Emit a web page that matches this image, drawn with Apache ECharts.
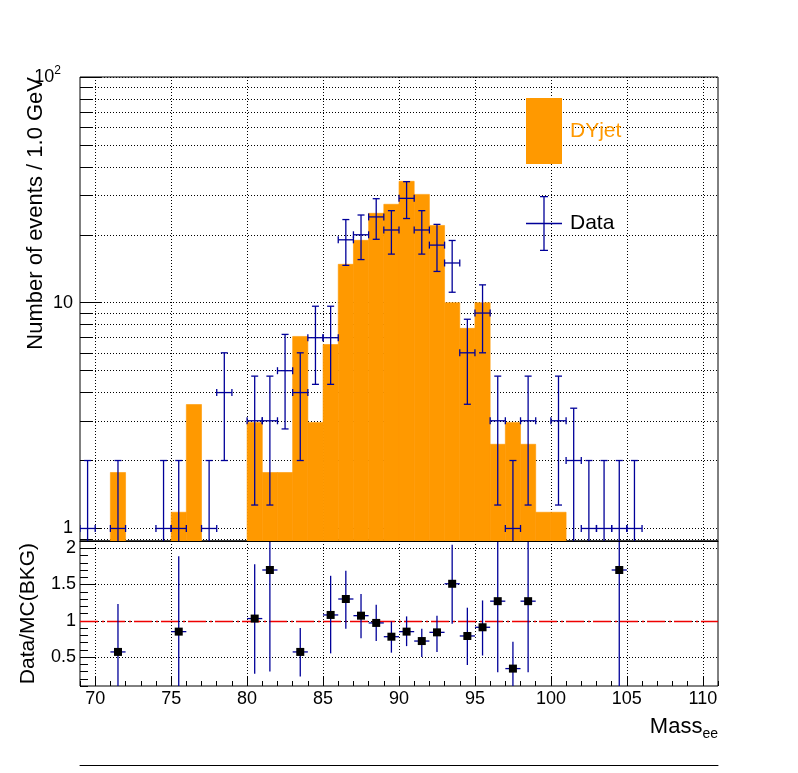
<!DOCTYPE html>
<html>
<head>
<meta charset="utf-8">
<script src="https://cdn.jsdelivr.net/npm/echarts@6/dist/echarts.min.js"></script>
<style>
html, body { margin: 0; padding: 0; background: #fff; }
#chart { width: 798px; height: 773px; }
</style>
</head>
<body>
<div id="chart"></div>
<script>
// DY+jets MC, bin centres of 1 GeV bins and yields
var mcX   = [71.5, 75.5, 76.5, 80.5, 81.5, 82.5, 83.5, 84.5, 85.5, 86.5, 87.5, 88.5, 89.5,
             90.5, 91.5, 92.5, 93.5, 94.5, 95.5, 96.5, 97.5, 98.5, 99.5, 100.5, 104.5];
var mcVal = [1.77, 1.18, 3.54, 2.95, 1.77, 1.77, 7.09, 2.95, 6.53, 14.8, 18.9, 24.9, 27.3,
             34.5, 30.2, 22.0, 10.0, 7.7, 10.0, 2.36, 2.95, 2.36, 1.18, 1.18, 0.59];

// data counts and their stat errors
var dataX   = [69.5, 71.5, 74.5, 75.5, 77.5, 78.5, 80.5, 81.5, 82.5, 83.5, 84.5, 85.5, 86.5, 87.5, 88.5, 89.5,
               90.5, 91.5, 92.5, 93.5, 94.5, 95.5, 96.5, 97.5, 98.5, 100.5, 101.5, 102.5, 103.5, 104.5, 105.5];
var dataVal = [1, 1, 1, 1, 1, 4, 3, 3, 5, 4, 7, 7, 19, 20, 24, 21,
               29, 21, 18, 15, 6, 9, 3, 1, 3, 3, 2, 1, 1, 1, 1];
var dataErr = [1, 1, 1, 1, 1, 2, 1.73, 1.73, 2.24, 2, 2.65, 2.65, 4.36, 4.47, 4.9, 4.58,
               5.39, 4.58, 4.24, 3.87, 2.45, 3, 1.73, 1, 1.73, 1.73, 1.41, 1, 1, 1, 1];

// Data/MC ratio with error band ends
var ratioX   = [71.5, 75.5, 80.5, 81.5, 83.5, 85.5, 86.5, 87.5, 88.5, 89.5,
                90.5, 91.5, 92.5, 93.5, 94.5, 95.5, 96.5, 97.5, 98.5, 104.5];
var ratioVal = [0.57, 0.85, 1.03, 1.70, 0.57, 1.08, 1.30, 1.07, 0.97, 0.78,
                0.85, 0.72, 0.84, 1.51, 0.79, 0.91, 1.27, 0.34, 1.27, 1.70];
var ratioLo  = [0.0, 0.0, 0.27, 0.30, 0.23, 0.55, 0.89, 0.76, 0.72, 0.56,
                0.65, 0.50, 0.57, 0.96, 0.39, 0.52, 0.29, 0.0, 0.29, 0.0];
var ratioHi  = [1.23, 1.89, 1.78, 3.1, 0.90, 1.62, 1.69, 1.37, 1.22, 0.99,
                1.06, 0.89, 1.07, 2.05, 1.18, 1.28, 2.25, 0.71, 2.25, 3.4];

// tick positions
var xMajor    = [70, 75, 80, 85, 90, 95, 100, 105, 110];
var yTopMinor = [0.9, 1, 2, 3, 4, 5, 6, 7, 8, 9, 10, 20, 30, 40, 50, 60, 70, 80, 90, 100];
var yTopMajor = [1, 10, 100];
var yBotMajor = [0.5, 1, 1.5, 2];

var xMin = 69, xMax = 111, binW = 1;
var yTopMin = 0.88, yTopMax = 100;
var yBotMin = 0.1, yBotMax = 2.1;

var orange = '#ff9900';
var blue = '#000099';
var font = '"Liberation Sans", Arial, sans-serif';
var dotted = { color: '#000', width: 1, type: [1, 2] };

function seg(x1, y1, x2, y2, color) {
	return { type: 'line', shape: { x1: x1, y1: y1, x2: x2, y2: y2 }, style: { stroke: color, lineWidth: 1.3 } };
}

// histogram bar, from the bottom of the pad up to the bin content
function histItem(params, api) {
	var x = api.value(0), v = api.value(1);
	if (v <= yTopMin) return;
	var p0 = api.coord([x - binW / 2, v]);
	var p1 = api.coord([x + binW / 2, yTopMin]);
	return {
		type: 'rect',
		shape: { x: p0[0], y: p0[1], width: p1[0] - p0[0], height: p1[1] - p0[1] },
		style: { fill: orange, stroke: orange, lineWidth: 0.6 }
	};
}

// data point: x and y error bars with end caps
function dataItem(params, api) {
	var x = api.value(0), v = api.value(1), e = api.value(2);
	var cap = 3.5;
	var c = api.coord([x, v]);
	var l = api.coord([x - binW / 2, v]);
	var r = api.coord([x + binW / 2, v]);
	var hi = api.coord([x, v + e]);
	var lowOk = v - e > yTopMin;
	var lo = api.coord([x, lowOk ? v - e : yTopMin]);
	var kids = [
		seg(l[0], c[1], r[0], c[1], blue),
		seg(c[0], hi[1], c[0], lo[1], blue),
		seg(c[0] - cap, hi[1], c[0] + cap, hi[1], blue),
		seg(l[0], c[1] - cap, l[0], c[1] + cap, blue),
		seg(r[0], c[1] - cap, r[0], c[1] + cap, blue)
	];
	if (lowOk) kids.push(seg(c[0] - cap, lo[1], c[0] + cap, lo[1], blue));
	return { type: 'group', children: kids };
}

// ratio point: square marker with plain error lines
function ratioItem(params, api) {
	var x = api.value(0), v = api.value(1);
	var lo = Math.max(api.value(2), yBotMin), hi = Math.min(api.value(3), yBotMax);
	var c = api.coord([x, v]);
	var l = api.coord([x - binW / 2, v]);
	var r = api.coord([x + binW / 2, v]);
	var t = api.coord([x, hi]);
	var b = api.coord([x, lo]);
	return {
		type: 'group',
		children: [
			seg(l[0], c[1], r[0], c[1], blue),
			seg(c[0], t[1], c[0], b[1], blue),
			{ type: 'rect', shape: { x: c[0] - 4, y: c[1] - 4, width: 8, height: 8 }, style: { fill: '#000' } }
		]
	};
}

var mcData = mcX.map(function (x, i) { return [x, mcVal[i]]; });
var dataPts = dataX.map(function (x, i) { return [x, dataVal[i], dataErr[i]]; });
var ratioPts = ratioX.map(function (x, i) { return [x, ratioVal[i], ratioLo[i], ratioHi[i]]; });

var dataIcon = 'path://M0,26.8H36V28.2H0Z M17.35,0H18.65V55H17.35Z M14,0H22V1.3H14Z M14,53.7H22V55H14Z';

var chart = echarts.init(document.getElementById('chart'));

var option = {
	animation: false,
	backgroundColor: '#fff',
	textStyle: { fontFamily: font },
	grid: [
		{ left: 80, right: 80, top: 77, height: 464, show: true, borderColor: '#000', borderWidth: 1, backgroundColor: '#fff' },
		{ left: 80, right: 80, top: 541, height: 145, show: true, borderColor: '#000', borderWidth: 1, backgroundColor: '#fff' },
		{ left: 80, right: 80, top: 764, height: 1 }
	],
	legend: [
		{
			data: ['DYjet'], left: 526, top: 98, padding: 0,
			itemWidth: 36, itemHeight: 66, icon: 'rect', selectedMode: false,
			textStyle: { color: orange, fontSize: 21, fontFamily: font, padding: [0, 0, 0, 3] }
		},
		{
			data: ['Data'], left: 526, top: 196, padding: 0,
			itemWidth: 36, itemHeight: 55, icon: dataIcon, selectedMode: false,
			textStyle: { color: '#000', fontSize: 21, fontFamily: font, padding: [5, 0, 0, 3] }
		}
	],
	xAxis: [
		{
			gridIndex: 0, type: 'value', min: xMin, max: xMax,
			axisLine: { show: false },
			axisTick: { show: false, customValues: xMajor },
			axisLabel: { show: false },
			splitLine: { show: true, lineStyle: dotted }
		},
		{
			gridIndex: 1, type: 'value', min: xMin, max: xMax, interval: 1,
			axisLine: { show: false },
			axisTick: { show: true, inside: true, length: 5, lineStyle: { color: '#000' } },
			axisLabel: { show: false },
			splitLine: { show: false }
		},
		{
			gridIndex: 1, type: 'value', min: xMin, max: xMax, position: 'bottom',
			axisLine: { show: false },
			axisTick: { show: true, inside: true, length: 10, customValues: xMajor, lineStyle: { color: '#000' } },
			axisLabel: { show: true, customValues: xMajor, color: '#000', fontSize: 18, margin: 4, fontFamily: font },
			splitLine: { show: true, lineStyle: dotted },
			name: '{m|Mass}{s|ee}',
			nameLocation: 'end',
			nameGap: 0,
			nameTextStyle: {
				align: 'right', verticalAlign: 'top', padding: [27, 0, 0, 0],
				rich: {
					m: { fontSize: 22, color: '#000', fontFamily: font },
					s: { fontSize: 14, color: '#000', fontFamily: font, padding: [14, 0, 0, 0] }
				}
			}
		},
		{
			gridIndex: 1, type: 'value', min: xMin, max: xMax, position: 'top', z: 10,
			axisLine: { show: true, lineStyle: { color: '#000', width: 1 } },
			axisTick: { show: false }, axisLabel: { show: false }, splitLine: { show: false }
		},
		{
			gridIndex: 2, type: 'value', min: xMin, max: xMax,
			axisLine: { show: true, lineStyle: { color: '#000', width: 1 } },
			axisTick: { show: false }, axisLabel: { show: false }, splitLine: { show: false }
		}
	],
	yAxis: [
		{
			gridIndex: 0, type: 'log', logBase: 10, min: yTopMin, max: yTopMax, position: 'left',
			axisLine: { show: false },
			axisTick: { show: true, inside: true, length: 12, customValues: yTopMinor, lineStyle: { color: '#000' } },
			axisLabel: { show: false },
			splitLine: { show: true, lineStyle: dotted },
			name: 'Number of events / 1.0 GeV',
			nameLocation: 'end',
			nameRotate: 90,
			nameGap: 0,
			nameTextStyle: { align: 'right', verticalAlign: 'bottom', padding: [0, 0, 33, 0], fontSize: 22, color: '#000', fontFamily: font }
		},
		{
			gridIndex: 0, type: 'log', logBase: 10, min: yTopMin, max: yTopMax, position: 'left',
			axisLine: { show: false },
			axisTick: { show: true, inside: true, length: 22, customValues: yTopMajor, lineStyle: { color: '#000' } },
			axisLabel: {
				show: true, customValues: yTopMajor, color: '#000', fontSize: 18, margin: 7, fontFamily: font,
				formatter: function (v) { return v >= 100 ? '{b|10}{s|2}' : String(v); },
				rich: {
					b: { fontSize: 18, color: '#000', fontFamily: font, padding: [0, 0, 0, 0] },
					s: { fontSize: 12, color: '#000', fontFamily: font, padding: [0, 12, 12, 0] }
				}
			},
			splitLine: { show: false }
		},
		{
			gridIndex: 1, type: 'value', min: yBotMin, max: yBotMax, interval: 0.1, position: 'left',
			axisLine: { show: false },
			axisTick: { show: true, inside: true, length: 8, lineStyle: { color: '#000' } },
			axisLabel: { show: false },
			splitLine: { show: false }
		},
		{
			gridIndex: 1, type: 'value', min: yBotMin, max: yBotMax, position: 'left',
			axisLine: { show: false },
			axisTick: { show: true, inside: true, length: 16, customValues: yBotMajor, lineStyle: { color: '#000' } },
			axisLabel: { show: true, customValues: yBotMajor, color: '#000', fontSize: 18, margin: 4, fontFamily: font },
			splitLine: { show: true, lineStyle: dotted },
			name: 'Data/MC(BKG)',
			nameLocation: 'end',
			nameRotate: 90,
			nameGap: -2,
			nameTextStyle: { align: 'right', verticalAlign: 'bottom', padding: [0, 0, 41, 0], fontSize: 21, color: '#000', fontFamily: font }
		},
		{
			gridIndex: 2, type: 'value', min: 0, max: 1, show: false
		}
	],
	series: [
		{
			name: 'DYjet', type: 'custom', xAxisIndex: 0, yAxisIndex: 0, clip: true, z: 2,
			itemStyle: { color: orange },
			encode: { x: 0, y: 1 },
			renderItem: histItem,
			data: mcData
		},
		{
			name: 'Data', type: 'custom', xAxisIndex: 0, yAxisIndex: 0, clip: true, z: 3,
			itemStyle: { color: blue },
			encode: { x: 0, y: 1 },
			renderItem: dataItem,
			data: dataPts
		},
		{
			name: 'Ratio', type: 'custom', xAxisIndex: 1, yAxisIndex: 2, clip: true, z: 3,
			itemStyle: { color: '#000' },
			encode: { x: 0, y: 1 },
			renderItem: ratioItem,
			data: ratioPts,
			markLine: {
				silent: true, symbol: 'none', z: 2,
				label: { show: false },
				lineStyle: { color: '#ee0000', width: 1.4, type: [18, 4, 2, 3] },
				data: [{ yAxis: 1 }]
			}
		}
	]
};

chart.setOption(option);
</script>
</body>
</html>
